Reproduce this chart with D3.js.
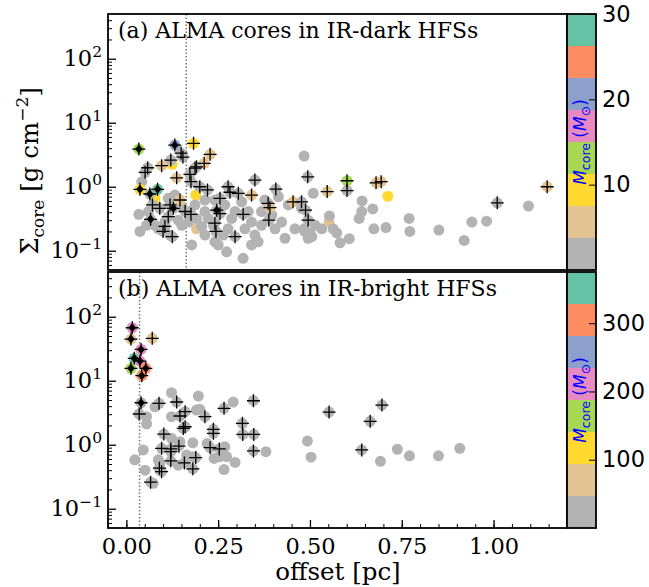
<!DOCTYPE html>
<html>
<head>
<meta charset="utf-8">
<script src="https://cdn.jsdelivr.net/npm/d3@7/dist/d3.min.js"></script>
<style>
body { margin: 0; background: #fff; }
svg { display: block; }
</style>
</head>
<body>
<svg></svg>
<script>
// panel (a): IR-dark HFSs. mark: 0 = circle only, 1 = circle + plus, 2 = circle + diamond + plus
const offsetA = [0.125,0.189,0.078,0.191,0.552,
  0.484,1.095,0.509,0.642,0.671,0.641,0.634,0.553,0.563,0.573,0.582,0.607,0.674,0.707,0.770,0.772,0.851,0.920,0.941,0.981,
  0.484,0.500,0.505,0.037,0.034,0.055,0.042,0.078,0.105,0.119,0.087,0.060,0.132,0.141,0.151,0.169,0.173,0.187,0.214,0.191,
  0.205,0.214,0.223,0.237,0.178,0.241,0.250,0.273,0.264,0.277,0.287,0.296,0.314,0.332,0.323,0.341,0.350,0.368,0.359,0.318,
  0.341,0.396,0.405,0.423,0.432,0.459,0.477,0.486,0.495,0.514,0.532,0.377,0.441,0.414,0.241,0.214,0.114,0.151,0.268,0.368,
  0.712,
  0.034,0.132,0.037,0.064,0.085,0.128,0.066,0.246,
  0.183,0.149,0.154,0.121,0.096,0.228,0.212,0.191,0.187,0.058,0.051,0.137,0.173,0.176,0.200,0.221,0.277,0.282,0.305,0.350,
  0.341,0.407,0.494,0.547,0.255,0.146,0.071,0.091,0.119,0.160,0.176,0.114,0.105,0.100,0.125,0.241,0.244,0.255,0.318,0.296,
  0.386,0.391,0.388,0.454,0.477,0.488,0.495,0.601,0.601,0.680,0.694,1.146,1.010];
const sigmaA = [2.24,0.74,0.66,0.22,0.28,
  3.02,0.50,0.79,0.60,0.45,0.41,0.32,0.35,0.22,0.19,0.133,0.154,0.22,0.23,0.32,0.20,0.21,0.145,0.28,0.29,
  0.22,0.19,0.166,0.20,0.37,0.25,1.20,0.25,0.28,0.176,0.22,0.41,0.74,0.30,0.25,0.28,0.41,0.52,0.41,0.32,
  0.24,0.176,0.32,0.25,0.123,0.138,0.123,0.096,0.176,0.22,0.32,0.41,0.58,0.41,0.22,0.28,0.176,0.25,0.138,0.076,
  0.123,0.36,0.22,0.28,0.156,0.22,0.46,0.20,0.156,0.25,0.22,0.62,0.52,0.70,0.62,0.62,0.66,0.49,0.52,0.41,
  0.71,
  3.88,4.48,0.91,0.77,0.91,0.46,0.31,0.43,
  4.77,3.36,2.91,2.61,2.13,3.21,2.32,2.05,1.96,1.98,1.68,1.38,1.56,1.20,1.00,0.89,1.00,0.82,0.79,1.27,
  0.74,0.92,1.43,0.84,0.66,0.62,0.52,0.46,0.52,0.41,0.37,0.34,0.24,0.20,0.166,0.27,0.20,0.38,0.37,0.166,
  0.55,0.47,0.30,0.58,0.58,0.43,0.30,1.24,0.87,1.15,1.20,1.00,0.56];
const massA = [9,9,9,5,5,
  2,2,2,2,2,2,2,2,2,2,2,2,2,2,2,2,2,2,2,2,
  2,2,2,2,2,2,2,2,2,2,2,2,2,2,2,2,2,2,2,2,
  2,2,2,2,2,2,2,2,2,2,2,2,2,2,2,2,2,2,2,2,
  2,2,2,2,2,2,2,2,2,2,2,2,2,2,2,2,2,2,2,2,
  9,
  13,20,9,2,28,2,2,2,
  9,2,2,2,5,5,5,2,2,2,2,5,2,2,2,2,2,2,2,2,
  5,2,2,5,2,5,2,2,2,2,2,2,2,2,2,2,2,2,2,2,
  2,5,2,5,2,2,2,13,2,5,5,5,2];
const markA = [0,0,0,0,0,
  0,0,0,0,0,0,0,0,0,0,0,0,0,0,0,0,0,0,0,0,
  0,0,0,0,0,0,0,0,0,0,0,0,0,0,0,0,0,0,0,0,
  0,0,0,0,0,0,0,0,0,0,0,0,0,0,0,0,0,0,0,0,
  0,0,0,0,0,0,0,0,0,0,0,0,0,0,0,0,0,0,0,0,
  0,
  2,2,2,2,2,2,2,2,
  1,1,1,1,1,1,1,1,1,1,1,1,1,1,1,1,1,1,1,1,
  1,1,1,1,1,1,1,1,1,1,1,1,1,1,1,1,1,1,1,1,
  1,1,1,1,1,1,1,1,1,1,1,1,1];

// panel (b): IR-bright HFSs
const offsetB = [0.078,0.123,0.196,0.291,0.191,0.200,0.123,0.055,0.055,0.123,0.146,0.181,0.220,0.046,0.268,0.273,0.380,0.023,0.087,
  0.091,0.164,0.182,0.239,0.255,0.296,0.266,0.051,0.091,0.073,0.141,0.493,0.503,0.692,0.738,0.771,0.850,0.908,
  0.016,0.0125,0.040,0.0215,0.037,0.053,0.0125,0.042,0.040,
  0.0705,0.035,0.089,0.137,0.266,0.346,0.160,0.146,0.214,0.160,0.155,0.237,0.237,0.316,0.317,0.347,0.102,0.228,0.096,
  0.121,0.121,0.143,0.253,0.346,0.121,0.158,0.189,0.181,0.090,0.096,0.066,0.552,0.696,0.664,0.641];
const sigmaB = [3.92,6.49,5.77,4.65,3.48,3.57,2.74,2.74,2.11,1.26,1.11,1.07,1.05,0.83,0.93,0.65,0.78,0.58,0.58,
  0.51,0.69,0.65,0.61,0.65,0.53,0.41,0.40,0.40,0.25,0.48,1.14,0.64,0.55,0.85,0.67,0.67,0.88,
  67.3,44.8,30.9,22.4,20.3,15.6,15.6,12.0,4.53,
  46.0,3.02,4.43,4.65,3.70,4.87,3.28,2.81,2.74,1.91,1.80,1.74,1.51,2.16,1.45,1.45,1.47,0.90,0.88,
  0.86,0.78,0.95,0.86,0.80,0.56,0.52,0.63,0.42,0.43,0.38,0.26,3.24,4.17,2.32,0.83];
const massB = [20,20,20,20,20,20,20,20,20,20,20,20,20,20,20,20,20,20,20,
  20,20,20,20,20,20,20,20,20,20,20,20,20,20,20,20,20,20,
  210,70,210,350,210,300,165,300,20,
  70,20,20,20,20,20,20,20,20,20,20,20,20,20,20,20,20,20,20,
  20,20,20,20,20,20,20,20,20,20,20,20,20,20,20,20];
const markB = [0,0,0,0,0,0,0,0,0,0,0,0,0,0,0,0,0,0,0,
  0,0,0,0,0,0,0,0,0,0,0,0,0,0,0,0,0,0,
  2,2,2,2,2,2,2,2,2,
  1,1,1,1,1,1,1,1,1,1,1,1,1,1,1,1,1,1,1,
  1,1,1,1,1,1,1,1,1,1,1,1,1,1,1,1];

const bandColors = ['#b3b3b3','#e5c494','#ffd92f','#a6d854','#e78ac3','#8da0cb','#fc8d62','#66c2a5'];
const xTicks = [0, 0.25, 0.5, 0.75, 1.0];
const yTicks = [0.1, 1, 10, 100];
const cbTicksA = [10, 20, 30];
const cbTicksB = [100, 200, 300];

var svg = d3.select('svg').attr('width', 649).attr('height', 587);
var serif = 'DejaVu Serif';
var sans = 'DejaVu Sans';

var x = d3.scaleLinear().domain([-0.05, 1.2]).range([108, 567]);

function panel(top, bottom, offs, sig, mass, mark, massMax, cbTicks, vline, title, showX) {
  var y = d3.scaleLog().domain([0.05, 500]).range([bottom, top]);
  var color = d3.scaleQuantize().domain([0, massMax]).range(bandColors);
  var pts = offs.map((d, i) => ({x: d, y: sig[i], m: mass[i], k: mark[i]}));

  var g = svg.append('g');

  // dotted line
  g.append('line')
    .attr('x1', x(vline)).attr('x2', x(vline))
    .attr('y1', top).attr('y2', bottom)
    .attr('stroke', '#777').attr('stroke-width', 1.5)
    .attr('stroke-dasharray', '1.5,2');

  g.selectAll('circle.pt')
    .data(pts)
    .enter()
    .append('circle')
    .attr('class', 'pt')
    .attr('cx', d => x(d.x))
    .attr('cy', d => y(d.y))
    .attr('r', 5.5)
    .attr('fill', d => color(d.m));

  g.selectAll('path.dm')
    .data(pts.filter(d => d.k == 2))
    .enter()
    .append('path')
    .attr('class', 'dm')
    .attr('d', 'M0,-4.5L3.8,0L0,4.5L-3.8,0Z')
    .attr('fill', '#000')
    .attr('transform', d => 'translate(' + x(d.x) + ',' + y(d.y) + ')');

  g.selectAll('path.pl')
    .data(pts.filter(d => d.k > 0))
    .enter()
    .append('path')
    .attr('class', 'pl')
    .attr('d', 'M-6.5,0H6.5M0,-6.5V6.5')
    .attr('stroke', '#000')
    .attr('stroke-width', 1.3)
    .attr('transform', d => 'translate(' + x(d.x) + ',' + y(d.y) + ')');

  // y axis, ticks inward
  var ya = g.append('g').attr('transform', 'translate(108,0)')
    .call(d3.axisLeft(y).tickValues(yTicks).tickSize(-8).tickPadding(6));
  ya.select('.domain').remove();
  ya.selectAll('line').attr('stroke-width', 1.3);
  ya.selectAll('.tick text').each(function(d) {
    var t = d3.select(this).text('').attr('font-family', serif).attr('font-size', 22.5).attr('fill', '#000');
    t.append('tspan').text('10');
    t.append('tspan').attr('dy', -9).attr('font-size', 15.5).text(String(Math.round(Math.log10(d))).replace('-', '\u2212'));
  });
  var minors = [];
  for (var e = -2; e < 3; e++) for (var k = 2; k < 10; k++) {
    var v = k * Math.pow(10, e);
    if (v > 0.05 && v < 500) minors.push(v);
  }
  var ym = g.append('g').attr('transform', 'translate(108,0)')
    .call(d3.axisLeft(y).tickValues(minors).tickSize(-4).tickFormat(''));
  ym.select('.domain').remove();
  ym.selectAll('line').attr('stroke-width', 1);

  if (showX) {
    var xa = g.append('g').attr('transform', 'translate(0,' + bottom + ')')
      .call(d3.axisBottom(x).tickValues(xTicks).tickSize(-8).tickPadding(10).tickFormat(d3.format('.2f')));
    xa.select('.domain').remove();
    xa.selectAll('line').attr('stroke-width', 1.3);
    xa.selectAll('text').attr('font-family', serif).attr('font-size', 22.5).attr('fill', '#000');
    var xm = g.append('g').attr('transform', 'translate(0,' + bottom + ')')
      .call(d3.axisBottom(x).tickValues(d3.range(-0.05, 1.2, 0.05).map(v => +v.toFixed(2))).tickSize(-4).tickFormat(''));
    xm.select('.domain').remove();
    xm.selectAll('line').attr('stroke-width', 1);
  }

  // frame
  g.append('rect')
    .attr('x', 108).attr('y', top)
    .attr('width', 567 - 108).attr('height', bottom - top)
    .attr('fill', 'none').attr('stroke', '#000').attr('stroke-width', 1.8);

  g.append('text')
    .attr('x', 118).attr('y', top + 24)
    .attr('font-family', serif).attr('font-size', 22)
    .text(title);

  // colorbar
  var cb = d3.scaleLinear().domain([0, massMax]).range([bottom, top]);
  var step = massMax / bandColors.length;
  g.selectAll('rect.band')
    .data(bandColors)
    .enter()
    .append('rect')
    .attr('class', 'band')
    .attr('x', 567).attr('width', 29)
    .attr('y', (c, i) => cb((i + 1) * step))
    .attr('height', (c, i) => cb(i * step) - cb((i + 1) * step))
    .attr('fill', c => c);
  var ca = g.append('g').attr('transform', 'translate(596,0)')
    .call(d3.axisRight(cb).tickValues(cbTicks).tickSize(-7).tickPadding(6));
  ca.select('.domain').remove();
  ca.selectAll('text').attr('font-family', sans).attr('font-size', 22.5).attr('fill', '#000');
  g.append('rect')
    .attr('x', 567).attr('y', top)
    .attr('width', 29).attr('height', bottom - top)
    .attr('fill', 'none').attr('stroke', '#000').attr('stroke-width', 1.8);

  var cl = g.append('text')
    .attr('transform', 'translate(586,' + ((top + bottom) / 2) + ') rotate(-90)')
    .attr('text-anchor', 'middle')
    .attr('font-family', sans).attr('font-size', 17).attr('fill', '#0000ff');
  cl.append('tspan').attr('font-style', 'italic').text('M');
  cl.append('tspan').attr('font-size', 12.5).attr('dy', 4).text('core');
  cl.append('tspan').attr('dy', -4).text(' (');
  cl.append('tspan').attr('font-style', 'italic').text('M');
  cl.append('tspan').attr('font-size', 12.5).attr('dy', 4).text('\u2299');
  cl.append('tspan').attr('dy', -4).text(')');
}

panel(14, 270, offsetA, sigmaA, massA, markA, 30, cbTicksA, 0.163, '(a) ALMA cores in IR-dark HFSs', false);
panel(272, 528, offsetB, sigmaB, massB, markB, 375, cbTicksB, 0.036, '(b) ALMA cores in IR-bright HFSs', true);

svg.append('text')
  .attr('x', 338).attr('y', 580)
  .attr('text-anchor', 'middle')
  .attr('font-family', serif).attr('font-size', 24.5)
  .text('offset [pc]');

var yl = svg.append('text')
  .attr('transform', 'translate(38,171) rotate(-90)')
  .attr('text-anchor', 'middle')
  .attr('font-family', serif).attr('font-size', 24.5);
yl.append('tspan').text('\u03A3');
yl.append('tspan').attr('font-size', 17).attr('dy', 6).text('core');
yl.append('tspan').attr('dy', -6).text(' [g cm');
yl.append('tspan').attr('font-size', 17).attr('dy', -10).text('\u22122');
yl.append('tspan').attr('dy', 10).text(']');
</script>
</body>
</html>
